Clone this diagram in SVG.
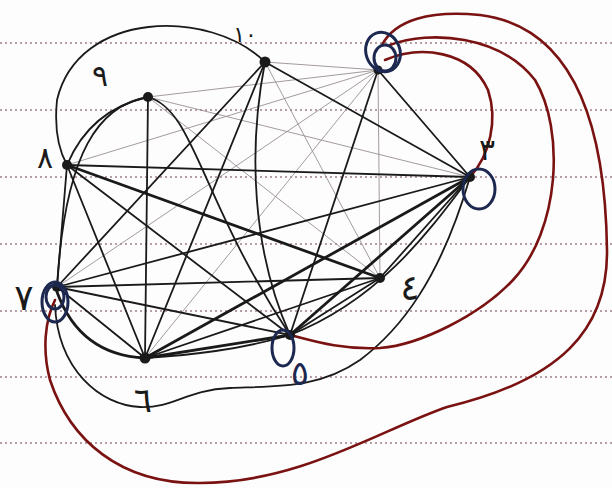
<svg xmlns="http://www.w3.org/2000/svg" width="612" height="488" viewBox="0 0 612 488">
<style>
.rule{stroke:#a07f86;stroke-width:1.6;stroke-dasharray:2 3;fill:none}
.e{stroke:#1a1a1a;stroke-width:1.8;fill:none;stroke-linecap:round}
.k{stroke:#1a1a1a;stroke-width:2.8;fill:none;stroke-linecap:round}
.t{stroke:#9a9090;stroke-width:0.9;fill:none}
.r{stroke:#7a1212;stroke-width:2.6;fill:none;stroke-linecap:round}
.loop{stroke:#1d2850;stroke-width:3;fill:none}
.n{fill:#1a1a1a}
.lbl{font-family:"DejaVu Sans","Noto Sans",sans-serif;fill:#1a1a1a;text-anchor:middle}
</style>
<rect width="612" height="488" fill="#fdfdfd"/>
<g id="paper">
<line class="rule" x1="0" y1="43" x2="612" y2="43"/>
<line class="rule" x1="0" y1="110" x2="612" y2="110"/>
<line class="rule" x1="0" y1="177" x2="612" y2="177"/>
<line class="rule" x1="0" y1="244" x2="612" y2="244"/>
<line class="rule" x1="0" y1="311" x2="612" y2="311"/>
<line class="rule" x1="0" y1="377" x2="612" y2="377"/>
<line class="rule" x1="0" y1="443" x2="612" y2="443"/>
</g>
<g id="connectors">
<path class="t" d="M67,165 L378,70"/>
<path class="t" d="M148,97 L378,70"/>
<path class="t" d="M148,97 L470,177"/>
<path class="t" d="M148,97 L380,278"/>
<path class="t" d="M265,62 L378,70"/>
<path class="t" d="M378,70 L380,278"/>
<path class="t" d="M378,70 L145,358"/>
<path class="t" d="M378,70 L57,287"/>
<path class="t" d="M378,70 L470,177"/>
<path class="t" d="M265,62 L380,278"/>
<path class="e" d="M67,165 L470,177"/>
<path class="k" d="M67,165 L380,278"/>
<path class="e" d="M67,165 L290,335"/>
<path class="e" d="M67,165 L57,287"/>
<path class="e" d="M67,165 L145,358"/>
<path class="e" d="M67,165 Q90,110 148,97"/>
<path class="e" d="M148,97 L145,358"/>
<path class="e" d="M148,97 C100,105 65,150 57,287"/>
<path class="e" d="M148,97 C195,110 200,200 290,335"/>
<path class="e" d="M265,62 L470,177"/>
<path class="e" d="M265,62 C248,150 252,250 290,335"/>
<path class="e" d="M265,62 L57,287"/>
<path class="e" d="M265,62 L145,358"/>
<path class="e" d="M265,62 C210,8 78,10 57,100 Q53,140 67,165"/>
<path class="e" d="M378,70 L470,177"/>
<path class="e" d="M378,70 L290,335"/>
<path class="e" d="M470,177 L380,278"/>
<path class="k" d="M470,177 L290,335"/>
<path class="k" d="M470,177 L145,358"/>
<path class="e" d="M470,177 L57,287"/>
<path class="e" d="M470,177 C430,230 380,300 290,335"/>
<path class="e" d="M380,278 L290,335"/>
<path class="e" d="M380,278 L57,287"/>
<path class="e" d="M380,278 L145,358"/>
<path class="k" d="M290,335 L145,358"/>
<path class="e" d="M290,335 C240,350 190,355 145,358"/>
<path class="e" d="M290,335 L57,287"/>
<path class="e" d="M145,358 L57,287"/>
<path class="k" d="M57,292 Q80,355 145,358"/>
<path class="e" d="M55,305 C58,370 100,405 140,407 C175,408 185,390 230,388 C280,386 320,388 360,360 C400,330 440,280 470,177"/>
<path class="r" d="M385,60 C420,45 470,50 488,90 C498,120 490,155 470,177"/>
<path class="r" d="M390,45 C430,30 500,35 535,80 C565,130 560,230 513,280 C480,315 420,345 380,348 C340,350 310,340 290,335"/>
<path class="r" d="M382,45 C395,20 430,10 480,15 C560,25 605,100 607,250 C608,330 560,380 447,407 C380,430 300,483 200,483 C120,484 70,440 50,380 C42,350 45,320 55,300"/>
</g>
<g id="n1"><circle class="n" cx="378" cy="70" r="4.5"/>
<ellipse class="loop" cx="383" cy="52" rx="17" ry="20" transform="rotate(-20 383 52)"/>
<ellipse class="loop" cx="385" cy="58" rx="11" ry="13"/></g>
<g id="n3"><circle class="n" cx="470" cy="177" r="5"/>
<ellipse class="loop" cx="479" cy="189" rx="16" ry="20"/>
<text class="lbl" x="487" y="160" font-size="30">٣</text></g>
<g id="n4"><circle class="n" cx="380" cy="278" r="5"/>
<text class="lbl" x="410" y="300" font-size="36">٤</text></g>
<g id="n5"><circle class="n" cx="290" cy="335" r="5"/>
<ellipse class="loop" cx="283" cy="348" rx="11" ry="18"/>
<text class="lbl" x="300" y="385" font-size="34" style="fill:#1d2850">٥</text></g>
<g id="n6"><circle class="n" cx="145" cy="358" r="5.5"/>
<text class="lbl" x="143" y="412" font-size="34">٦</text></g>
<g id="n7"><circle class="n" cx="57" cy="287" r="5"/>
<ellipse class="loop" cx="55" cy="302" rx="13" ry="20"/>
<ellipse class="loop" cx="55" cy="297" rx="9" ry="12"/>
<text class="lbl" x="24" y="310" font-size="36">٧</text></g>
<g id="n8"><circle class="n" cx="67" cy="165" r="5"/>
<text class="lbl" x="45" y="168" font-size="30">٨</text></g>
<g id="n9"><circle class="n" cx="148" cy="97" r="5"/>
<text class="lbl" x="100" y="86" font-size="30">٩</text></g>
<g id="n10"><circle class="n" cx="265" cy="62" r="5.5"/>
<text class="lbl" x="245" y="42" font-size="22">١٠</text></g>
</svg>
